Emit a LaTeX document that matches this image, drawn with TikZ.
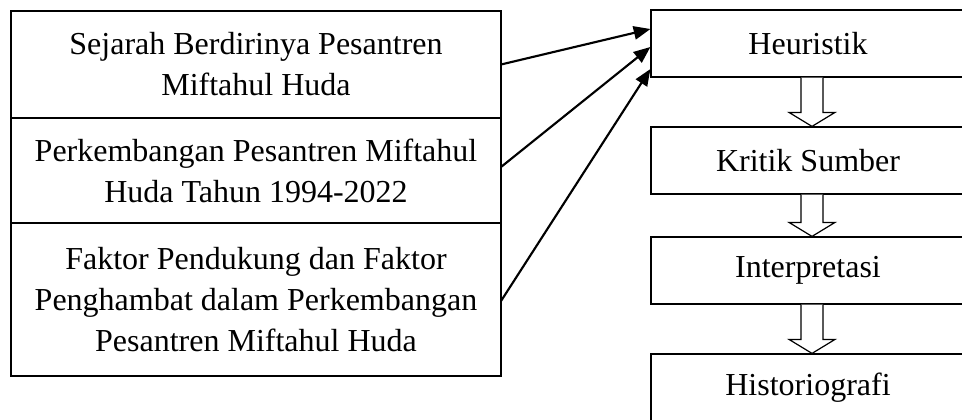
\documentclass[tikz,border=0pt]{standalone}
\usepackage{fontspec}
\setmainfont{Liberation Serif}
\usetikzlibrary{arrows.meta, positioning, calc}

\newcommand{\hollowarrow}[2]{%
    \draw[hollow] ($(#1.south)+(-7,0)$) -- ($(#2.north)+(-7,-14)$)
        -- ($(#2.north)+(-19,-14)$) -- ($(#2.north)+(4,0)$)
        -- ($(#2.north)+(27,-14)$) -- ($(#2.north)+(15,-14)$)
        -- ($(#1.south)+(15,0)$);}

\begin{document}
\begin{tikzpicture}[
    x=0.75pt, y=-0.75pt,
    every node/.style={font=\fontsize{24}{30.75}\selectfont},
    leftbox/.style={draw, line width=0.9pt, minimum width=367.5pt,
        align=center, inner sep=0pt, outer sep=0pt},
    stepbox/.style={draw, line width=0.9pt, minimum width=235.5pt,
        minimum height=50.25pt, inner sep=0pt},
    link/.style={-{Triangle[length=12.5pt,width=10pt]}, line width=1.6pt},
    hollow/.style={draw, line width=0.9pt, fill=white}]
    \useasboundingbox (0,0) rectangle (962,419);

    % topik penelitian
    \node[leftbox, minimum height=80.25pt] (sejarah) at (256,64.5)
        {Sejarah Berdirinya Pesantren\\Miftahul Huda};
    \node[leftbox, minimum height=78.75pt, below=0pt of sejarah] (perkembangan)
        {Perkembangan Pesantren Miftahul\\Huda Tahun 1994-2022};
    \node[leftbox, minimum height=114.75pt, below=0pt of perkembangan] (faktor)
        {Faktor Pendukung dan Faktor\\Penghambat dalam Perkembangan\\Pesantren Miftahul Huda};

    % metode sejarah
    \node[stepbox] (heur) at (808,43.5) {Heuristik};
    \node[stepbox] (kritik) at (808,160.5) {Kritik Sumber};
    \node[stepbox] (interp) at (808,270.5) {Interpretasi};
    \node[stepbox] (histo) at (808,387.5) {Historiografi};

    \draw[link] (sejarah.east) -- ($(heur.west)+(0,-14.5)$);
    \draw[link] ($(perkembangan.east)+(0,-3.5)$) -- ($(heur.west)+(0,3.5)$);
    \draw[link] ($(faktor.east)+(0,1.5)$) -- ($(heur.west)+(0,25.5)$);

    \hollowarrow{heur}{kritik}
    \hollowarrow{kritik}{interp}
    \hollowarrow{interp}{histo}

\end{tikzpicture}
\end{document}
